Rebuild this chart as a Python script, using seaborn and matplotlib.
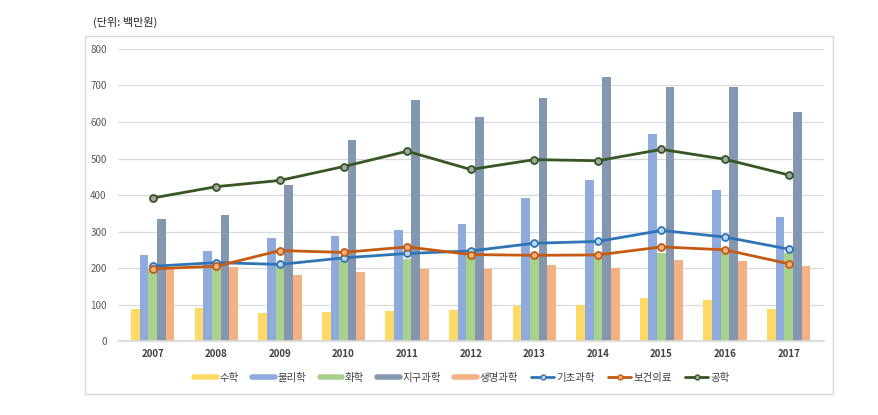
import numpy as np
import pandas as pd
import seaborn as sns
import matplotlib
matplotlib.use("Agg")
import matplotlib.pyplot as plt
from matplotlib.lines import Line2D
from matplotlib.patches import Rectangle

years = ["2007", "2008", "2009", "2010", "2011", "2012", "2013", "2014", "2015", "2016", "2017"]
bar_names = ["수학", "물리학", "화학", "지구과학", "생명과학"]
math_v = [87, 90, 77, 80, 82, 85, 97, 100, 117, 112, 88]
phys_v = [235, 247, 282, 287, 303, 320, 393, 440, 566, 413, 340]
chem_v = [200, 205, 215, 222, 225, 232, 232, 235, 241, 250, 241]
earth_v = [335, 345, 428, 550, 660, 615, 665, 723, 695, 697, 628]
life_v = [200, 203, 180, 190, 198, 198, 208, 200, 223, 220, 205]
line_names = ["기초과학", "보건의료", "공학"]
basic_v = [205, 215, 210, 228, 240, 247, 268, 273, 303, 285, 252]
health_v = [198, 205, 248, 243, 258, 237, 235, 236, 258, 250, 212]
eng_v = [392, 423, 440, 478, 520, 470, 497, 494, 525, 498, 455]

bar_colors = ["#FFD966", "#8FAADC", "#A9D18E", "#8497B0", "#F4B183"]
line_colors = ["#2E75B6", "#C55A11", "#375623"]
marker_faces = ["#BDD7EE", "#F4B183", "#A5A5A5"]

sns.set_theme(style="white")
plt.rcParams['font.family'] = ['Noto Sans CJK KR', 'DejaVu Sans']

rows = []
for name, vals in zip(bar_names, [math_v, phys_v, chem_v, earth_v, life_v]):
    for y, v in zip(years, vals):
        rows.append({"year": y, "field": name, "value": v})
df = pd.DataFrame(rows)

fig = plt.figure(figsize=(8.79, 4.15), dpi=100)
ax = fig.add_axes([0.134, 0.178, 0.803, 0.704])

sns.barplot(data=df, x="year", y="value", hue="field", hue_order=bar_names,
            palette=bar_colors, width=0.68, saturation=1, ax=ax, legend=False,
            linewidth=0, zorder=2)

xs = np.arange(len(years))
for vals, c, mf in zip([basic_v, health_v, eng_v], line_colors, marker_faces):
    ax.plot(xs, vals, color=c, lw=2.0, marker="o", ms=5, mfc=mf, mec=c, mew=1.3, zorder=4)

ax.set_ylim(0, 800)
ax.set_xlim(-0.55, len(years) - 0.45)
ax.set_yticks(range(0, 801, 100))
ax.yaxis.grid(True, color="#D9D9D9", lw=0.9, zorder=0)
ax.set_axisbelow(True)
for s in ["top", "right", "left"]:
    ax.spines[s].set_visible(False)
ax.spines["bottom"].set_color("#D9D9D9")
ax.set_xlabel("")
ax.set_ylabel("")
ax.tick_params(axis="y", labelsize=7, colors="#595959", length=0, pad=8)
ax.tick_params(axis="x", labelsize=7, colors="#404040", length=0, pad=6)
for t in ax.get_xticklabels():
    t.set_fontweight("bold")

fig.text(93 / 879, 1 - 22 / 415, "(단위: 백만원)", fontsize=8, color="#222222", va="center", ha="left")

fig.patches.append(Rectangle((85 / 879, 1 - 394 / 415), (833 - 85) / 879, (394 - 36) / 415,
                             transform=fig.transFigure, fill=False, edgecolor="#D9D9D9", lw=1))

handles = [Line2D([], [], color=c, lw=4) for c in bar_colors]
handles += [Line2D([], [], color=c, lw=2, marker="o", ms=3.5, mfc=mf, mec=c)
            for c, mf in zip(line_colors, marker_faces)]
fig.legend(handles, bar_names + line_names, loc="center", bbox_to_anchor=(462 / 879, 1 - 378 / 415),
           ncol=8, frameon=False, fontsize=7.5, handlelength=2.2, columnspacing=1.3,
           handletextpad=0.2, labelcolor="#404040")

fig.savefig("out.png", dpi=100)
